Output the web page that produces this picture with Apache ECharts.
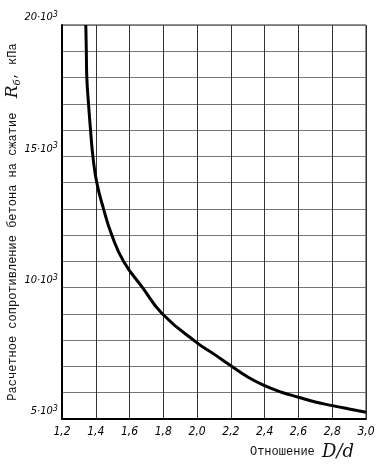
<!DOCTYPE html>
<html>
<head>
<meta charset="utf-8">
<script src="https://cdn.jsdelivr.net/npm/echarts@6/dist/echarts.min.js"></script>
<style>
  html, body { margin:0; padding:0; background:#fff; }
  #chart { width:378px; height:465px; }
</style>
</head>
<body>
<div id="chart"></div>
<script>
// отношение D/d и расчетное сопротивление R_б, кПа
var ratio = [1.341, 1.344, 1.347, 1.357, 1.369, 1.383, 1.406, 1.446, 1.495, 1.565, 1.677, 1.795, 2.0, 2.1, 2.2, 2.3, 2.4, 2.5, 2.6, 2.7, 2.8, 2.9, 3.0];
var strength = [20000, 19000, 18000, 17000, 16000, 15000, 14000, 13000, 12000, 11000, 10000, 9000, 7900, 7470, 7030, 6600, 6270, 6020, 5830, 5650, 5510, 5380, 5255];
var yLabelValues = [5000, 10000, 15000, 20000];

(function() {
  var mono = "'Liberation Mono', 'DejaVu Sans Mono', monospace";
  var lbl = "'DejaVu Sans Condensed', 'Liberation Sans Narrow', 'DejaVu Sans', sans-serif";
  var serif = "'DejaVu Serif', serif";
  var points = ratio.map(function(x, i){ return [x, strength[i]]; });

  var chart = echarts.init(document.getElementById('chart'), null, {renderer:'canvas'});
  chart.setOption({
    animation:false,
    backgroundColor:'#fff',
    grid:{left:62, right:12, top:25, bottom:46, outerBoundsMode:'none', containLabel:false,
      show:true, borderColor:'#222', borderWidth:1},
    xAxis:{
      type:'value', min:1.2, max:3.0, interval:0.2,
      axisLine:{show:true, lineStyle:{color:'#000', width:2}},
      axisTick:{show:false},
      splitLine:{show:true, lineStyle:{color:'#333', width:1}},
      axisLabel:{
        color:'#000', fontFamily:lbl, fontStyle:'italic', fontSize:12, margin:7,
        formatter:function(v){ return v.toFixed(1).replace('.', ','); }
      },
      name:'Отношение {it|D/d}', nameLocation:'end', nameGap:-12, nameMoveOverlap:false,
      nameTextStyle:{
        color:'#111', fontFamily:mono, fontSize:12, align:'right', verticalAlign:'top',
        padding:[24,0,0,0],
        rich:{it:{fontFamily:serif, fontStyle:'italic', fontSize:18, color:'#111'}}
      }
    },
    yAxis:{
      type:'value', min:5000, max:20000, interval:1000,
      axisLine:{show:true, lineStyle:{color:'#000', width:2}},
      axisTick:{show:false},
      splitLine:{show:true, lineStyle:{color:'#777', width:1}},
      axisLabel:{
        color:'#000', fontFamily:lbl, fontStyle:'italic', fontSize:11, margin:4,
        verticalAlign:'bottom', lineHeight:15,
        formatter:function(v){
          return yLabelValues.indexOf(v) >= 0 ? (v/1000) + '·10{sup|3}' : '';
        },
        rich:{sup:{fontFamily:lbl, fontStyle:'italic', fontSize:9, color:'#000', verticalAlign:'top', padding:[0,0,6,0]}}
      },
      name:'Расчетное сопротивление бетона на сжатие  {r|R}{sub|б}, кПа',
      nameLocation:'middle', nameGap:40, nameMoveOverlap:false,
      nameTextStyle:{
        color:'#111', fontFamily:mono, fontSize:12,
        rich:{
          r:{fontFamily:serif, fontStyle:'italic', fontSize:17, color:'#111'},
          sub:{fontFamily:serif, fontStyle:'italic', fontSize:10, color:'#111', padding:[8,0,0,0]}
        }
      }
    },
    series:[{
      type:'line', data:points, smooth:0.5,
      symbol:'none', lineStyle:{color:'#000', width:3}
    }]
  });
})();
</script>
</body>
</html>
